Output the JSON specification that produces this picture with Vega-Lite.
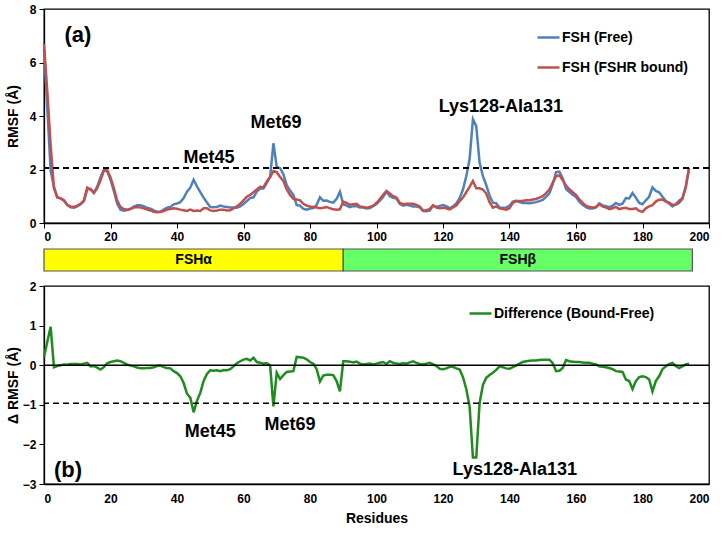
{
  "$schema": "https://vega.github.io/schema/vega-lite/v6.json",
  "padding": {"left": 5, "top": 2, "right": 5, "bottom": 2},
  "background": "white",
  "config": {
    "font": "Liberation Sans",
    "view": {"stroke": "black", "strokeWidth": 1.3},
    "axis": {
      "grid": false,
      "labelFontSize": 12,
      "labelFontWeight": "bold",
      "labelColor": "#000",
      "titleFontSize": 14,
      "titleFontWeight": "bold",
      "titleColor": "#000",
      "domainColor": "#000",
      "domainWidth": 1.3,
      "tickColor": "#000",
      "tickSize": 5
    },
    "axisY": {"minExtent": 20, "maxExtent": 20, "titlePadding": 4, "labelPadding": 3},
    "legend": {
      "labelFontSize": 14,
      "labelFontWeight": "bold",
      "labelColor": "#000",
      "labelLimit": 0,
      "symbolType": "stroke",
      "symbolSize": 484,
      "symbolStrokeWidth": 2.5,
      "labelOffset": 1
    }
  },
  "datasets": {
    "rmsf": [
      {"r":0,"free":6.5,"bound":6.7,"diff":0.2},
      {"r":1,"free":4.3,"bound":4.9,"diff":0.6},
      {"r":2,"free":1.95,"bound":2.9,"diff":0.97},
      {"r":3,"free":1.35,"bound":1.3,"diff":-0.05},
      {"r":4,"free":0.97,"bound":0.95,"diff":-0.02},
      {"r":5,"free":0.92,"bound":0.92,"diff":0},
      {"r":6,"free":0.83,"bound":0.85,"diff":0.02},
      {"r":7,"free":0.67,"bound":0.68,"diff":0.01},
      {"r":8,"free":0.59,"bound":0.62,"diff":0.03},
      {"r":9,"free":0.57,"bound":0.6,"diff":0.03},
      {"r":10,"free":0.62,"bound":0.65,"diff":0.03},
      {"r":11,"free":0.7,"bound":0.72,"diff":0.02},
      {"r":12,"free":0.81,"bound":0.85,"diff":0.04},
      {"r":13,"free":1.26,"bound":1.32,"diff":0.06},
      {"r":14,"free":1.28,"bound":1.25,"diff":-0.03},
      {"r":15,"free":1.14,"bound":1.12,"diff":-0.02},
      {"r":16,"free":1.36,"bound":1.3,"diff":-0.06},
      {"r":17,"free":1.71,"bound":1.6,"diff":-0.11},
      {"r":18,"free":2.0,"bound":1.95,"diff":-0.05},
      {"r":19,"free":1.93,"bound":1.98,"diff":0.05},
      {"r":20,"free":1.62,"bound":1.7,"diff":0.08},
      {"r":21,"free":1.2,"bound":1.3,"diff":0.1},
      {"r":22,"free":0.73,"bound":0.85,"diff":0.12},
      {"r":23,"free":0.5,"bound":0.6,"diff":0.1},
      {"r":24,"free":0.46,"bound":0.52,"diff":0.06},
      {"r":25,"free":0.48,"bound":0.5,"diff":0.02},
      {"r":26,"free":0.53,"bound":0.52,"diff":-0.01},
      {"r":27,"free":0.61,"bound":0.58,"diff":-0.03},
      {"r":28,"free":0.66,"bound":0.6,"diff":-0.06},
      {"r":29,"free":0.66,"bound":0.58,"diff":-0.08},
      {"r":30,"free":0.63,"bound":0.55,"diff":-0.08},
      {"r":31,"free":0.57,"bound":0.5,"diff":-0.07},
      {"r":32,"free":0.54,"bound":0.47,"diff":-0.07},
      {"r":33,"free":0.47,"bound":0.42,"diff":-0.05},
      {"r":34,"free":0.42,"bound":0.4,"diff":-0.02},
      {"r":35,"free":0.42,"bound":0.41,"diff":-0.01},
      {"r":36,"free":0.5,"bound":0.45,"diff":-0.05},
      {"r":37,"free":0.57,"bound":0.5,"diff":-0.07},
      {"r":38,"free":0.6,"bound":0.52,"diff":-0.08},
      {"r":39,"free":0.7,"bound":0.55,"diff":-0.15},
      {"r":40,"free":0.73,"bound":0.53,"diff":-0.2},
      {"r":41,"free":0.78,"bound":0.5,"diff":-0.28},
      {"r":42,"free":0.93,"bound":0.48,"diff":-0.45},
      {"r":43,"free":1.17,"bound":0.45,"diff":-0.72},
      {"r":44,"free":1.32,"bound":0.5,"diff":-0.82},
      {"r":45,"free":1.62,"bound":0.45,"diff":-1.19},
      {"r":46,"free":1.37,"bound":0.47,"diff":-0.9},
      {"r":47,"free":1.15,"bound":0.45,"diff":-0.7},
      {"r":48,"free":0.95,"bound":0.55,"diff":-0.4},
      {"r":49,"free":0.77,"bound":0.55,"diff":-0.22},
      {"r":50,"free":0.6,"bound":0.47,"diff":-0.13},
      {"r":51,"free":0.59,"bound":0.45,"diff":-0.14},
      {"r":52,"free":0.6,"bound":0.47,"diff":-0.13},
      {"r":53,"free":0.65,"bound":0.5,"diff":-0.15},
      {"r":54,"free":0.62,"bound":0.5,"diff":-0.12},
      {"r":55,"free":0.6,"bound":0.47,"diff":-0.13},
      {"r":56,"free":0.58,"bound":0.48,"diff":-0.1},
      {"r":57,"free":0.58,"bound":0.55,"diff":-0.03},
      {"r":58,"free":0.57,"bound":0.62,"diff":0.05},
      {"r":59,"free":0.62,"bound":0.72,"diff":0.1},
      {"r":60,"free":0.71,"bound":0.85,"diff":0.14},
      {"r":61,"free":0.82,"bound":0.98,"diff":0.16},
      {"r":62,"free":0.93,"bound":1.05,"diff":0.12},
      {"r":63,"free":0.96,"bound":1.15,"diff":0.19},
      {"r":64,"free":1.17,"bound":1.25,"diff":0.08},
      {"r":65,"free":1.29,"bound":1.35,"diff":0.06},
      {"r":66,"free":1.29,"bound":1.33,"diff":0.04},
      {"r":67,"free":1.5,"bound":1.55,"diff":0.05},
      {"r":68,"free":1.72,"bound":1.72,"diff":0},
      {"r":69,"free":2.98,"bound":1.94,"diff":-1.04},
      {"r":70,"free":2.1,"bound":1.9,"diff":-0.19},
      {"r":71,"free":2.05,"bound":1.72,"diff":-0.35},
      {"r":72,"free":1.82,"bound":1.57,"diff":-0.25},
      {"r":73,"free":1.42,"bound":1.25,"diff":-0.17},
      {"r":74,"free":1.21,"bound":1.05,"diff":-0.16},
      {"r":75,"free":1.05,"bound":0.9,"diff":-0.15},
      {"r":76,"free":0.67,"bound":0.88,"diff":0.21},
      {"r":77,"free":0.65,"bound":0.85,"diff":0.2},
      {"r":78,"free":0.53,"bound":0.72,"diff":0.19},
      {"r":79,"free":0.5,"bound":0.65,"diff":0.15},
      {"r":80,"free":0.54,"bound":0.62,"diff":0.08},
      {"r":81,"free":0.56,"bound":0.6,"diff":0.04},
      {"r":82,"free":0.68,"bound":0.58,"diff":-0.1},
      {"r":83,"free":0.96,"bound":0.55,"diff":-0.41},
      {"r":84,"free":0.83,"bound":0.57,"diff":-0.26},
      {"r":85,"free":0.84,"bound":0.6,"diff":-0.24},
      {"r":86,"free":0.79,"bound":0.55,"diff":-0.24},
      {"r":87,"free":0.76,"bound":0.51,"diff":-0.25},
      {"r":88,"free":0.9,"bound":0.5,"diff":-0.4},
      {"r":89,"free":1.17,"bound":0.51,"diff":-0.66},
      {"r":90,"free":0.7,"bound":0.8,"diff":0.1},
      {"r":91,"free":0.65,"bound":0.75,"diff":0.1},
      {"r":92,"free":0.59,"bound":0.68,"diff":0.09},
      {"r":93,"free":0.63,"bound":0.7,"diff":0.07},
      {"r":94,"free":0.63,"bound":0.72,"diff":0.09},
      {"r":95,"free":0.58,"bound":0.62,"diff":0.04},
      {"r":96,"free":0.58,"bound":0.6,"diff":0.02},
      {"r":97,"free":0.54,"bound":0.57,"diff":0.03},
      {"r":98,"free":0.56,"bound":0.6,"diff":0.04},
      {"r":99,"free":0.63,"bound":0.65,"diff":0.02},
      {"r":100,"free":0.71,"bound":0.75,"diff":0.04},
      {"r":101,"free":0.84,"bound":0.9,"diff":0.06},
      {"r":102,"free":0.97,"bound":1.05,"diff":0.08},
      {"r":103,"free":1.17,"bound":1.2,"diff":0.03},
      {"r":104,"free":1.0,"bound":1.1,"diff":0.1},
      {"r":105,"free":0.94,"bound":1.0,"diff":0.06},
      {"r":106,"free":0.91,"bound":0.95,"diff":0.04},
      {"r":107,"free":0.72,"bound":0.75,"diff":0.03},
      {"r":108,"free":0.65,"bound":0.7,"diff":0.05},
      {"r":109,"free":0.68,"bound":0.72,"diff":0.04},
      {"r":110,"free":0.65,"bound":0.72,"diff":0.07},
      {"r":111,"free":0.62,"bound":0.72,"diff":0.1},
      {"r":112,"free":0.62,"bound":0.68,"diff":0.06},
      {"r":113,"free":0.59,"bound":0.62,"diff":0.03},
      {"r":114,"free":0.45,"bound":0.47,"diff":0.02},
      {"r":115,"free":0.44,"bound":0.48,"diff":0.04},
      {"r":116,"free":0.46,"bound":0.52,"diff":0.06},
      {"r":117,"free":0.64,"bound":0.67,"diff":0.03},
      {"r":118,"free":0.6,"bound":0.58,"diff":-0.02},
      {"r":119,"free":0.64,"bound":0.55,"diff":-0.09},
      {"r":120,"free":0.67,"bound":0.57,"diff":-0.1},
      {"r":121,"free":0.63,"bound":0.55,"diff":-0.08},
      {"r":122,"free":0.55,"bound":0.51,"diff":-0.04},
      {"r":123,"free":0.62,"bound":0.58,"diff":-0.04},
      {"r":124,"free":0.73,"bound":0.65,"diff":-0.08},
      {"r":125,"free":0.93,"bound":0.82,"diff":-0.11},
      {"r":126,"free":1.25,"bound":0.95,"diff":-0.3},
      {"r":127,"free":1.75,"bound":1.15,"diff":-0.6},
      {"r":128,"free":2.39,"bound":1.35,"diff":-1.04},
      {"r":129,"free":3.88,"bound":1.57,"diff":-2.33},
      {"r":130,"free":3.62,"bound":1.3,"diff":-2.33},
      {"r":131,"free":2.26,"bound":1.3,"diff":-0.96},
      {"r":132,"free":1.75,"bound":1.25,"diff":-0.5},
      {"r":133,"free":1.42,"bound":1.1,"diff":-0.32},
      {"r":134,"free":1.03,"bound":0.78,"diff":-0.25},
      {"r":135,"free":0.76,"bound":0.57,"diff":-0.19},
      {"r":136,"free":0.74,"bound":0.62,"diff":-0.12},
      {"r":137,"free":0.58,"bound":0.55,"diff":-0.03},
      {"r":138,"free":0.57,"bound":0.52,"diff":-0.05},
      {"r":139,"free":0.58,"bound":0.5,"diff":-0.08},
      {"r":140,"free":0.64,"bound":0.55,"diff":-0.09},
      {"r":141,"free":0.8,"bound":0.75,"diff":-0.05},
      {"r":142,"free":0.83,"bound":0.82,"diff":-0.01},
      {"r":143,"free":0.78,"bound":0.82,"diff":0.04},
      {"r":144,"free":0.75,"bound":0.83,"diff":0.08},
      {"r":145,"free":0.75,"bound":0.85,"diff":0.1},
      {"r":146,"free":0.74,"bound":0.85,"diff":0.11},
      {"r":147,"free":0.76,"bound":0.88,"diff":0.12},
      {"r":148,"free":0.78,"bound":0.9,"diff":0.12},
      {"r":149,"free":0.82,"bound":0.95,"diff":0.13},
      {"r":150,"free":0.86,"bound":1.0,"diff":0.14},
      {"r":151,"free":0.98,"bound":1.12,"diff":0.14},
      {"r":152,"free":1.11,"bound":1.25,"diff":0.14},
      {"r":153,"free":1.45,"bound":1.5,"diff":0.05},
      {"r":154,"free":1.9,"bound":1.75,"diff":-0.15},
      {"r":155,"free":1.92,"bound":1.78,"diff":-0.14},
      {"r":156,"free":1.67,"bound":1.6,"diff":-0.07},
      {"r":157,"free":1.27,"bound":1.4,"diff":0.13},
      {"r":158,"free":1.16,"bound":1.26,"diff":0.1},
      {"r":159,"free":1.06,"bound":1.15,"diff":0.09},
      {"r":160,"free":0.97,"bound":1.05,"diff":0.08},
      {"r":161,"free":0.8,"bound":0.88,"diff":0.08},
      {"r":162,"free":0.68,"bound":0.75,"diff":0.07},
      {"r":163,"free":0.59,"bound":0.65,"diff":0.06},
      {"r":164,"free":0.54,"bound":0.6,"diff":0.06},
      {"r":165,"free":0.54,"bound":0.58,"diff":0.04},
      {"r":166,"free":0.58,"bound":0.6,"diff":0.02},
      {"r":167,"free":0.73,"bound":0.7,"diff":-0.03},
      {"r":168,"free":0.66,"bound":0.62,"diff":-0.04},
      {"r":169,"free":0.63,"bound":0.58,"diff":-0.05},
      {"r":170,"free":0.59,"bound":0.52,"diff":-0.07},
      {"r":171,"free":0.65,"bound":0.55,"diff":-0.1},
      {"r":172,"free":0.75,"bound":0.6,"diff":-0.15},
      {"r":173,"free":0.68,"bound":0.52,"diff":-0.16},
      {"r":174,"free":0.72,"bound":0.55,"diff":-0.17},
      {"r":175,"free":0.93,"bound":0.57,"diff":-0.36},
      {"r":176,"free":0.92,"bound":0.52,"diff":-0.4},
      {"r":177,"free":1.12,"bound":0.52,"diff":-0.6},
      {"r":178,"free":0.95,"bound":0.55,"diff":-0.4},
      {"r":179,"free":0.75,"bound":0.45,"diff":-0.3},
      {"r":180,"free":0.7,"bound":0.42,"diff":-0.28},
      {"r":181,"free":0.85,"bound":0.55,"diff":-0.3},
      {"r":182,"free":0.98,"bound":0.62,"diff":-0.36},
      {"r":183,"free":1.33,"bound":0.67,"diff":-0.66},
      {"r":184,"free":1.2,"bound":0.8,"diff":-0.4},
      {"r":185,"free":1.15,"bound":0.87,"diff":-0.28},
      {"r":186,"free":0.98,"bound":0.88,"diff":-0.1},
      {"r":187,"free":0.83,"bound":0.8,"diff":-0.03},
      {"r":188,"free":0.73,"bound":0.76,"diff":0.03},
      {"r":189,"free":0.62,"bound":0.68,"diff":0.06},
      {"r":190,"free":0.7,"bound":0.68,"diff":-0.02},
      {"r":191,"free":0.83,"bound":0.76,"diff":-0.07},
      {"r":192,"free":0.93,"bound":0.9,"diff":-0.03},
      {"r":193,"free":1.33,"bound":1.35,"diff":0.02},
      {"r":194,"free":2.03,"bound":2.07,"diff":0.04}
    ],
    "annA": [
      {"label":"Met45","x":49.6,"y":2.43},
      {"label":"Met69","x":69.8,"y":3.74},
      {"label":"Lys128-Ala131","x":137.4,"y":4.34}
    ],
    "annB": [
      {"label":"Met45","x":50,"y":-1.68},
      {"label":"Met69","x":74,"y":-1.5},
      {"label":"Lys128-Ala131","x":141.6,"y":-2.65}
    ],
    "seg": [
      {"name":"FSHα","start":0,"end":90},
      {"name":"FSHβ","start":90,"end":195}
    ]
  },
  "vconcat": [
    {
      "vconcat": [
        {
          "width": 665,
          "height": 214,
          "data": {"name": "rmsf"},
          "layer": [
            {
              "mark": {"type": "line", "strokeWidth": 2.5},
              "encoding": {
                "x": {"field": "r", "type": "quantitative", "scale": {"domain": [0, 200]},
                      "axis": {"title": null, "values": [0,20,40,60,80,100,120,140,160,180,200], "labelPadding": 3}},
                "y": {"field": "free", "type": "quantitative", "scale": {"domain": [0, 8]},
                      "axis": {"title": "RMSF (Å)", "values": [0,2,4,6,8]}},
                "color": {"datum": "FSH (Free)", "type": "nominal",
                          "scale": {"domain": ["FSH (Free)", "FSH (FSHR bound)"], "range": ["#4F81BD", "#C0504D"]},
                          "legend": {"orient": "none", "legendX": 492, "legendY": 16, "title": null, "rowPadding": 10}}
              }
            },
            {
              "mark": {"type": "line", "strokeWidth": 2.5},
              "encoding": {
                "x": {"field": "r", "type": "quantitative"},
                "y": {"field": "bound", "type": "quantitative"},
                "color": {"datum": "FSH (FSHR bound)", "type": "nominal"}
              }
            },
            {
              "mark": {"type": "rule", "strokeDash": [6, 4], "strokeWidth": 1.5, "color": "black"},
              "encoding": {"y": {"datum": 2.05, "type": "quantitative"}}
            },
            {
              "data": {"name": "annA"},
              "mark": {"type": "text", "fontWeight": "bold", "fontSize": 18, "color": "black"},
              "encoding": {
                "x": {"field": "x", "type": "quantitative"},
                "y": {"field": "y", "type": "quantitative"},
                "text": {"field": "label"}
              }
            },
            {
              "data": {"values": [{"label": "(a)", "x": 10.2, "y": 7.03}]},
              "mark": {"type": "text", "fontWeight": "bold", "fontSize": 22, "color": "black"},
              "encoding": {
                "x": {"field": "x", "type": "quantitative"},
                "y": {"field": "y", "type": "quantitative"},
                "text": {"field": "label"}
              }
            }
          ]
        },
        {
          "width": 665,
          "height": 22,
          "view": {"stroke": null},
          "data": {"name": "seg"},
          "layer": [
            {
              "mark": {"type": "rect", "stroke": "#555", "strokeWidth": 1.2},
              "encoding": {
                "x": {"field": "start", "type": "quantitative", "scale": {"domain": [0, 200]}, "axis": null},
                "x2": {"field": "end"},
                "color": {"field": "name", "type": "nominal",
                          "scale": {"domain": ["FSHα", "FSHβ"], "range": ["#FFFF00", "#66FF66"]}, "legend": null}
              }
            },
            {
              "transform": [{"calculate": "(datum.start + datum.end) / 2", "as": "mid"}],
              "mark": {"type": "text", "fontWeight": "bold", "fontSize": 14, "color": "black"},
              "encoding": {
                "x": {"field": "mid", "type": "quantitative"},
                "text": {"field": "name"}
              }
            }
          ]
        }
      ],
      "spacing": 5,
      "resolve": {"scale": {"x": "independent", "y": "independent", "color": "independent"}, "legend": {"color": "independent"}}
    },
    {
      "width": 665,
      "height": 198,
      "data": {"name": "rmsf"},
      "encoding": {
        "x": {"field": "r", "type": "quantitative", "scale": {"domain": [0, 200]},
              "axis": {"title": "Residues", "values": [0,20,40,60,80,100,120,140,160,180,200], "ticks": false, "labelPadding": 9, "titlePadding": 7}},
        "y": {"field": "diff", "type": "quantitative", "scale": {"domain": [-3, 2], "nice": false},
              "axis": {"title": "Δ RMSF (Å)", "tickCount": 6, "values": [-3,-2,-1,0,1,2], "labelOverlap": false, "labelSeparation": 0, "format": "d"}}
      },
      "layer": [
        {
          "mark": {"type": "line", "strokeWidth": 2.5},
          "encoding": {
            "color": {"datum": "Difference (Bound-Free)", "type": "nominal",
                      "scale": {"domain": ["Difference (Bound-Free)"], "range": ["#1E8C1E"]},
                      "legend": {"orient": "none", "legendX": 424, "legendY": 15, "title": null}}
          }
        },
        {
          "data": {"values": [{"v": 0}]},
          "mark": {"type": "rule", "strokeWidth": 1.5, "color": "black"},
          "encoding": {"x": null, "y": {"field": "v", "type": "quantitative"}}
        },
        {
          "data": {"values": [{"v": -0.96}]},
          "mark": {"type": "rule", "strokeDash": [6, 4], "strokeWidth": 1.5, "color": "black"},
          "encoding": {"x": null, "y": {"field": "v", "type": "quantitative"}}
        },
        {
          "data": {"name": "annB"},
          "mark": {"type": "text", "fontWeight": "bold", "fontSize": 18, "color": "black"},
          "encoding": {
            "x": {"field": "x", "type": "quantitative"},
            "y": {"field": "y", "type": "quantitative"},
            "text": {"field": "label"}
          }
        },
        {
          "data": {"values": [{"label": "(b)", "x": 7.2, "y": -2.65}]},
          "mark": {"type": "text", "fontWeight": "bold", "fontSize": 22, "color": "black"},
          "encoding": {
            "x": {"field": "x", "type": "quantitative"},
            "y": {"field": "y", "type": "quantitative"},
            "text": {"field": "label"}
          }
        }
      ]
    }
  ],
  "spacing": 7,
  "resolve": {"scale": {"x": "independent", "y": "independent", "color": "independent"}, "legend": {"color": "independent"}}
}
